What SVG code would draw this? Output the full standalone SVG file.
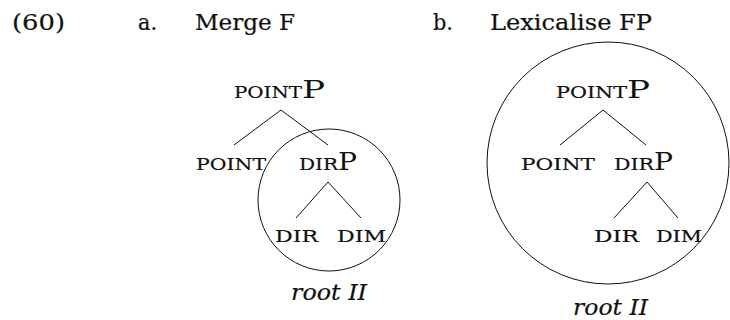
<svg xmlns="http://www.w3.org/2000/svg" width="730" height="320" viewBox="0 0 730 320">
<style>
text{font-family:"DejaVu Serif","Liberation Serif",serif;fill:#111;stroke:#111;stroke-width:0.2}
.h{font-size:21.5px}
.sc{font-size:16.5px}
.big{font-size:25px;stroke:none}
.it{font-size:23px;font-style:italic}
.edge{stroke:#111;stroke-width:1;fill:none}
.ring{stroke:#111;stroke-width:1;fill:none}
</style>
<rect width="730" height="320" fill="#fff"/>
<g id="header">
<text class="h" x="12" y="30" textLength="53" lengthAdjust="spacingAndGlyphs">(60)</text>
<text class="h" x="138" y="30" textLength="19" lengthAdjust="spacingAndGlyphs">a.</text>
<text class="h" x="195" y="30" textLength="100" lengthAdjust="spacingAndGlyphs">Merge F</text>
<text class="h" x="433" y="30" textLength="20" lengthAdjust="spacingAndGlyphs">b.</text>
<text class="h" x="490" y="30" textLength="162" lengthAdjust="spacingAndGlyphs">Lexicalise FP</text>
</g>
<g id="connectors">
<path class="edge" d="M234,145 L281,110 L328,145"/>
<path class="edge" d="M296,218 L328,182 L361,218"/>
<path class="edge" d="M560,145 L603,110 L646,145"/>
<path class="edge" d="M614,218 L647,182 L678,218"/>
</g>
<g id="circles">
<circle id="circle-a" class="ring" cx="329" cy="200" r="71"/>
<circle id="circle-b" class="ring" cx="608" cy="163" r="121"/>
</g>
<g id="a-pointp"><text class="sc" x="234" y="98" textLength="68" lengthAdjust="spacingAndGlyphs">POINT</text><text class="big" x="302" y="98" textLength="23" lengthAdjust="spacingAndGlyphs">P</text></g>
<g id="a-point"><text class="sc" x="196" y="170" textLength="70" lengthAdjust="spacingAndGlyphs">POINT</text></g>
<g id="a-dirp"><text class="sc" x="299" y="170" textLength="39" lengthAdjust="spacingAndGlyphs">DIR</text><text class="big" x="338" y="170" textLength="19" lengthAdjust="spacingAndGlyphs">P</text></g>
<g id="a-dir"><text class="sc" x="275" y="242" textLength="43" lengthAdjust="spacingAndGlyphs">DIR</text></g>
<g id="a-dim"><text class="sc" x="337" y="242" textLength="49" lengthAdjust="spacingAndGlyphs">DIM</text></g>
<g id="a-root"><text class="it" x="291" y="300" textLength="76" lengthAdjust="spacingAndGlyphs">root II</text></g>
<g id="b-pointp"><text class="sc" x="556" y="98" textLength="71" lengthAdjust="spacingAndGlyphs">POINT</text><text class="big" x="627" y="98" textLength="23" lengthAdjust="spacingAndGlyphs">P</text></g>
<g id="b-point"><text class="sc" x="521" y="170" textLength="74" lengthAdjust="spacingAndGlyphs">POINT</text></g>
<g id="b-dirp"><text class="sc" x="614" y="170" textLength="40" lengthAdjust="spacingAndGlyphs">DIR</text><text class="big" x="654" y="170" textLength="19" lengthAdjust="spacingAndGlyphs">P</text></g>
<g id="b-dir"><text class="sc" x="594" y="242" textLength="45" lengthAdjust="spacingAndGlyphs">DIR</text></g>
<g id="b-dim"><text class="sc" x="656" y="242" textLength="46" lengthAdjust="spacingAndGlyphs">DIM</text></g>
<g id="b-root"><text class="it" x="573" y="315" textLength="75" lengthAdjust="spacingAndGlyphs">root II</text></g>
</svg>
